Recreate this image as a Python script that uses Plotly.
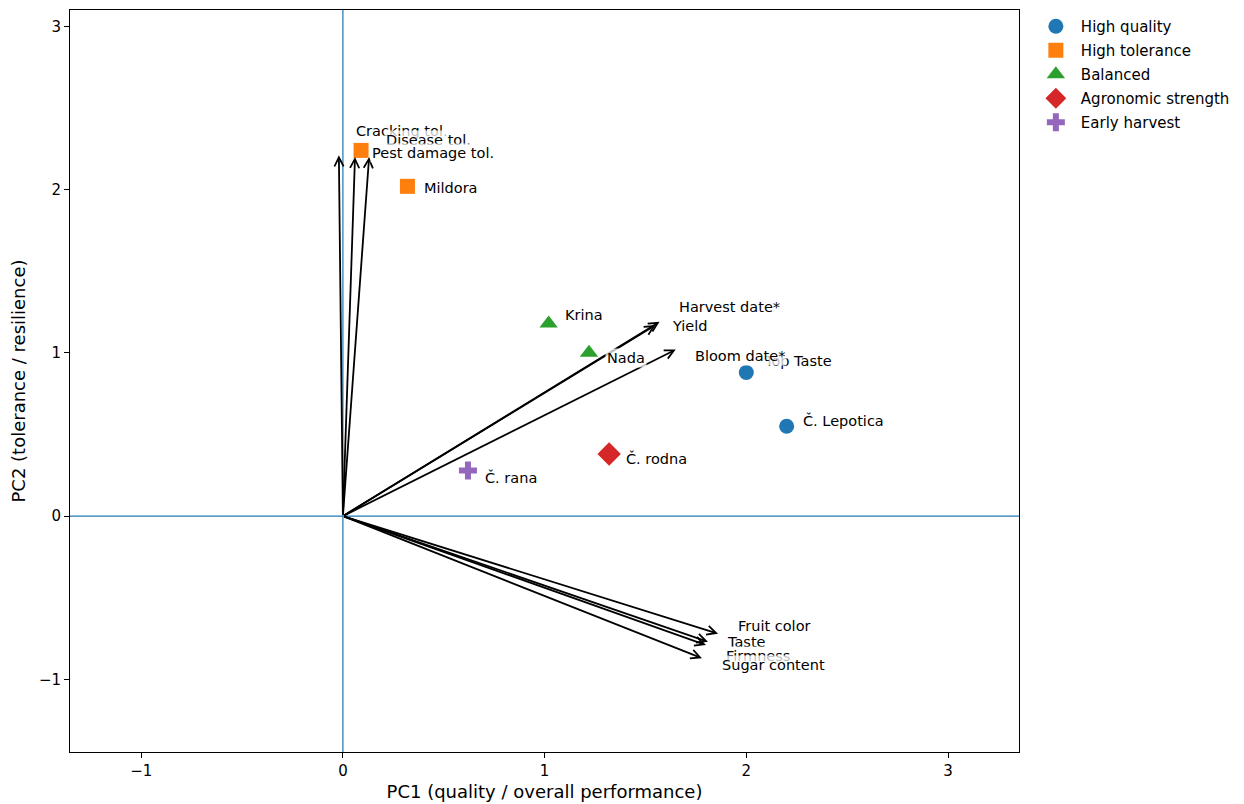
import plotly.graph_objects as go

# ---- data ----
cultivars = ["Top Taste", "Č. Lepotica", "Mildora", "", "Krina", "Nada", "Č. rodna", "Č. rana"]
groups = ["High quality", "High quality", "High tolerance", "High tolerance",
          "Balanced", "Balanced", "Agronomic strength", "Early harvest"]
pc1 = [2.00, 2.20, 0.32, 0.09, 1.02, 1.22, 1.32, 0.62]
pc2 = [0.88, 0.55, 2.02, 2.24, 1.18, 1.00, 0.38, 0.28]

variables = ["Cracking tol.", "Disease tol.", "Pest damage tol.", "Harvest date*", "Yield",
             "Bloom date*", "Fruit color", "Taste", "Firmness", "Sugar content"]
load1 = [-0.02, 0.06, 0.13, 1.57, 1.55, 1.65, 1.86, 1.81, 1.80, 1.78]
load2 = [2.21, 2.20, 2.20, 1.19, 1.17, 1.02, -0.72, -0.77, -0.79, -0.87]

group_order = ["High quality", "High tolerance", "Balanced", "Agronomic strength", "Early harvest"]
x_ticks = [-1, 0, 1, 2, 3]
y_ticks = [-1, 0, 1, 2, 3]
tick_text = ["−1", "0", "1", "2", "3"]

# ---- styles ----
group_style = {
    "High quality": ("circle", "#1f77b4", 15),
    "High tolerance": ("square", "#ff7f0e", 15),
    "Balanced": ("triangle-up", "#2ca02c", 16),
    "Agronomic strength": ("diamond", "#d62728", 18),
    "Early harvest": ("cross", "#9467bd", 15),
}
# label offsets in pixels (dx to left edge, dy up)
cult_shift = {
    "Top Taste": (16, 11), "Č. Lepotica": (14, 6), "Mildora": (15, -2),
    "Krina": (14, 8), "Nada": (16, -5), "Č. rodna": (15, -4), "Č. rana": (15, -7),
}
var_shift = {
    "Cracking tol.": (15, 24), "Disease tol.": (29, 17), "Pest damage tol.": (1, 4),
    "Harvest date*": (17, 15), "Yield": (14, -1), "Bloom date*": (17, -6),
    "Fruit color": (18, 8), "Taste": (17, 0), "Firmness": (18, -11), "Sugar content": (18, -7),
}
FONT = "DejaVu Sans"
BOX = "rgba(255,255,255,0.75)"
LABEL_SIZE = 14.5

fig = go.Figure()

for g in group_order:
    sym, col, sz = group_style[g]
    xs = [pc1[i] for i in range(len(groups)) if groups[i] == g]
    ys = [pc2[i] for i in range(len(groups)) if groups[i] == g]
    fig.add_trace(go.Scatter(
        x=xs, y=ys, mode="markers", name=g, legendgroup=g,
        marker=dict(symbol=sym, color=col, size=sz, line=dict(width=0)),
    ))

annotations = []
# loading arrows
for v, lx, ly in zip(variables, load1, load2):
    annotations.append(dict(
        x=lx, y=ly, ax=0, ay=0, xref="x", yref="y", axref="x", ayref="y",
        text="", showarrow=True, arrowhead=5, arrowsize=1.0, arrowwidth=1.8,
        arrowcolor="black",
    ))
# cultivar labels
for name, x, y in zip(cultivars, pc1, pc2):
    if not name:
        continue
    dx, dy = cult_shift[name]
    annotations.append(dict(
        x=x, y=y, xref="x", yref="y", text=name, showarrow=False,
        xanchor="left", yanchor="middle", xshift=dx, yshift=dy,
        bgcolor=BOX, borderpad=1, font=dict(family=FONT, size=LABEL_SIZE, color="black"),
    ))
# variable labels
for v, lx, ly in zip(variables, load1, load2):
    dx, dy = var_shift[v]
    annotations.append(dict(
        x=lx, y=ly, xref="x", yref="y", text=v, showarrow=False,
        xanchor="left", yanchor="middle", xshift=dx, yshift=dy,
        bgcolor=BOX, borderpad=1, font=dict(family=FONT, size=LABEL_SIZE, color="black"),
    ))

shapes = [
    dict(type="line", xref="x", yref="paper", x0=0, x1=0, y0=0, y1=1,
         line=dict(color="#1f77b4", width=1.2), layer="below"),
    dict(type="line", xref="paper", yref="y", x0=0, x1=1, y0=0, y1=0,
         line=dict(color="#1f77b4", width=1.2), layer="below"),
]

axis_common = dict(
    showgrid=False, zeroline=False, showline=True, mirror=True, automargin=False,
    linecolor="black", linewidth=1, ticks="outside", ticklen=5, tickwidth=1,
    tickcolor="black", tickfont=dict(family=FONT, size=15, color="black"),
)

fig.update_layout(
    width=1236, height=796,
    margin=dict(l=62, r=225, t=2, b=52),
    plot_bgcolor="white", paper_bgcolor="white",
    font=dict(family=FONT, color="black"),
    xaxis=dict(range=[-1.353, 3.352], tickvals=x_ticks, ticktext=tick_text,
               title=dict(text="PC1 (quality / overall performance)",
                          font=dict(family=FONT, size=18), standoff=6),
               **axis_common),
    yaxis=dict(range=[-1.445, 3.10], tickvals=y_ticks, ticktext=tick_text,
               title=dict(text="PC2 (tolerance / resilience)",
                          font=dict(family=FONT, size=18), standoff=14),
               **axis_common),
    legend=dict(x=1.0125, y=1.0, xanchor="left", yanchor="top",
                font=dict(family=FONT, size=15), bgcolor="rgba(0,0,0,0)",
                tracegroupgap=1.5, itemwidth=40, itemsizing="trace"),
    annotations=annotations,
    shapes=shapes,
)

fig.write_html("out.html")
